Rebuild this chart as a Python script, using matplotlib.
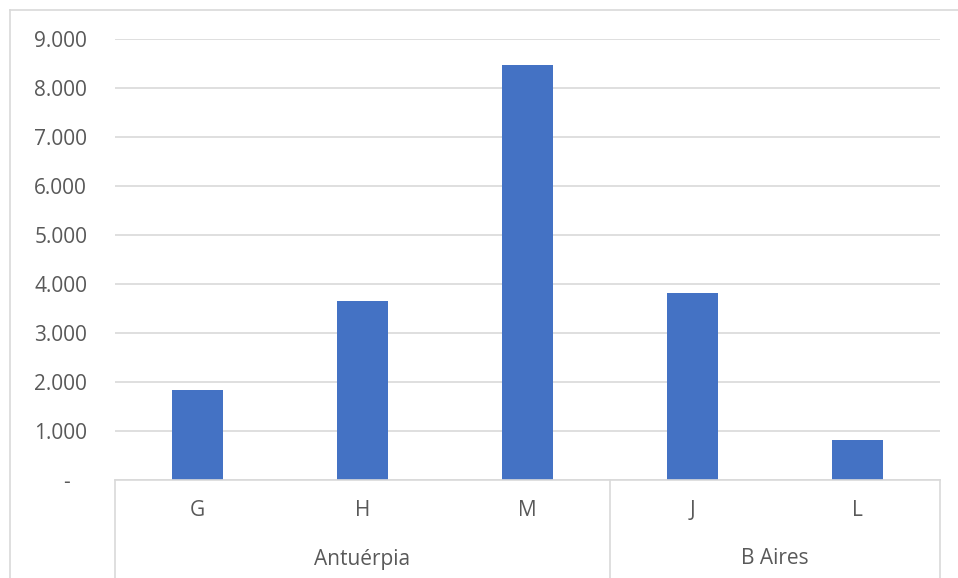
import matplotlib.pyplot as plt
from matplotlib.lines import Line2D

# ---Data---
groups = ["Antuérpia", "B Aires"]
group_sizes = [3, 2]
categories = ["G", "H", "M", "J", "L"]
values = [1830, 3660, 8470, 3820, 820]
yticks = [0, 1000, 2000, 3000, 4000, 5000, 6000, 7000, 8000, 9000]
ytick_labels = ["-   ", "1.000", "2.000", "3.000", "4.000", "5.000",
                "6.000", "7.000", "8.000", "9.000"]

BAR_COLOR = "#4472C4"
TEXT_COLOR = "#595959"
GRID_COLOR = "#D9D9D9"
FS = 15

plt.rcParams["font.family"] = ["Open Sans", "DejaVu Sans"]

W, H = 958, 578
fig = plt.figure(figsize=(W / 100, H / 100), dpi=100)
ax = fig.add_axes([115 / W, (H - 480) / H, (940 - 115) / W, (480 - 39) / H])

x = list(range(len(categories)))
ax.bar(x, values, width=0.315, color=BAR_COLOR, zorder=3)

ax.set_xlim(-0.5, len(categories) - 0.5)
ax.set_ylim(0, 9000)
ax.set_yticks(yticks)
ax.set_yticklabels(ytick_labels, color=TEXT_COLOR, fontsize=FS)
ax.tick_params(axis="y", length=0, pad=20)
ax.grid(axis="y", color=GRID_COLOR, linewidth=1.2, zorder=0)
ax.set_xticks([])
for s in ax.spines.values():
    s.set_visible(False)

# category axis: baseline and group separators
drop = -98 / 441
ax.plot([0, 1], [0, 0], transform=ax.transAxes, color=GRID_COLOR, lw=1.2, clip_on=False, zorder=4)
bounds = [-0.5]
for n in group_sizes:
    bounds.append(bounds[-1] + n)
for b in bounds:
    ax.plot([b, b], [0, drop], transform=ax.get_xaxis_transform(), color=GRID_COLOR,
            lw=1.2, clip_on=False)

for xi, c in zip(x, categories):
    ax.text(xi, -31 / 441, c, transform=ax.get_xaxis_transform(), ha="center", va="center",
            fontsize=FS, color=TEXT_COLOR)
for i, g in enumerate(groups):
    mid = (bounds[i] + bounds[i + 1]) / 2
    ax.text(mid, -79 / 441, g, transform=ax.get_xaxis_transform(), ha="center", va="center",
            fontsize=FS, color=TEXT_COLOR)

# chart frame
fig.add_artist(Line2D([9.5 / W, 9.5 / W], [0, (H - 10) / H], color=GRID_COLOR, lw=1.2))
fig.add_artist(Line2D([9.5 / W, 1], [(H - 10) / H, (H - 10) / H], color=GRID_COLOR, lw=1.2))

fig.savefig("out.png", dpi=100)
